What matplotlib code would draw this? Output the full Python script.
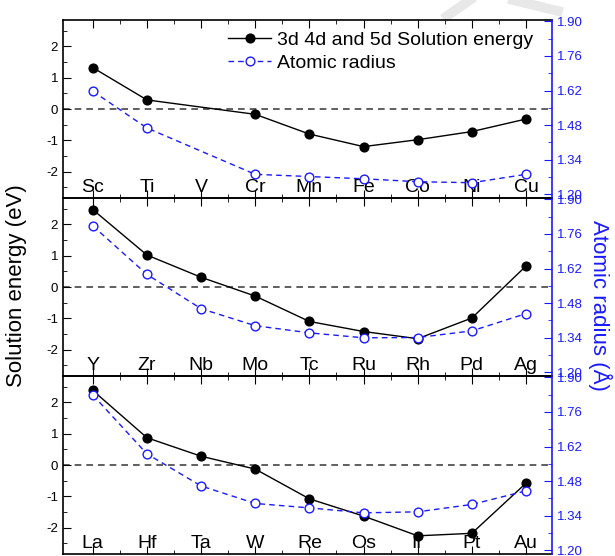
import matplotlib
matplotlib.use('Agg')
from matplotlib import pyplot as plt
import numpy as np

plt.rcParams['font.family'] = ['Liberation Sans', 'DejaVu Sans']
plt.rcParams['axes.unicode_minus'] = False

# element labels per row
el_3d = ['Sc', 'Ti', 'V', 'Cr', 'Mn', 'Fe', 'Co', 'Ni', 'Cu']
el_4d = ['Y', 'Zr', 'Nb', 'Mo', 'Tc', 'Ru', 'Rh', 'Pd', 'Ag']
el_5d = ['La', 'Hf', 'Ta', 'W', 'Re', 'Os', 'Ir', 'Pt', 'Au']

# solution energy (eV), V has no value
e_3d = [1.32, 0.29, np.nan, -0.17, -0.80, -1.20, -0.98, -0.72, -0.32]
e_4d = [2.47, 1.02, 0.31, -0.29, -1.10, -1.42, -1.65, -0.99, 0.67]
e_5d = [2.38, 0.87, 0.28, -0.13, -1.08, -1.63, -2.26, -2.18, -0.58]

# atomic radius (A)
r_3d = [1.617, 1.468, np.nan, 1.28, 1.271, 1.262, 1.25, 1.246, 1.28]
r_4d = [1.793, 1.596, 1.457, 1.388, 1.359, 1.339, 1.34, 1.367, 1.437]
r_5d = [1.829, 1.590, 1.46, 1.389, 1.371, 1.351, 1.355, 1.385, 1.44]

rows = [(el_3d, e_3d, r_3d), (el_4d, e_4d, r_4d), (el_5d, e_5d, r_5d)]

blue = '#1a1aff'
fig = plt.figure(figsize=(6.15, 5.56), dpi=100)

# faint watermark strokes at the top right
fig.add_artist(plt.Line2D([447 / 615, 470 / 615], [1 - 16 / 556, 1.0],
                          color='#e8e8e8', lw=7, zorder=0))
fig.add_artist(plt.Line2D([513 / 615, 558 / 615], [1.0, 1 - 11 / 556],
                          color='#e8e8e8', lw=7, zorder=0))

left, right = 63 / 615, 552 / 615
tops = [20, 198, 376]
h = 178

handles = None
for i, (els, en, rad) in enumerate(rows):
    top = tops[i]
    ax = fig.add_axes([left, 1 - (top + h) / 556, right - left, h / 556])
    ax.patch.set_alpha(0)
    ax2 = ax.twinx()
    x = np.arange(len(els))
    en = np.array(en)
    rad = np.array(rad)
    m1 = ~np.isnan(en)
    m2 = ~np.isnan(rad)

    ax.axhline(0, color='#444444', ls=(0, (4, 3)), lw=1.2, zorder=1)
    l1, = ax.plot(x[m1], en[m1], '-o', color='black', lw=1, ms=6.3, zorder=3,
                  label='3d 4d and 5d Solution energy')
    l2, = ax2.plot(x[m2], rad[m2], '--o', color=blue, lw=1, ms=6.3,
                   mfc='white', mec=blue, dashes=(4, 3),
                   label='Atomic radius')
    if handles is None:
        handles = [l1, l2]

    ax.set_xlim(-0.55, 8.48)
    ax.set_ylim(-2.84, 2.84)
    ax2.set_ylim(1.184, 1.906)

    ax.set_xticks(x)
    ax.set_xticks(x[:-1] + 0.5, minor=True)
    ax.set_xticklabels(els, fontsize=14)
    ax.set_yticks([-2, -1, 0, 1, 2])
    ax.set_yticks([-2.5, -1.5, -0.5, 0.5, 1.5, 2.5], minor=True)
    ax.tick_params(axis='x', which='both', direction='in', top=True,
                   pad=-14)
    ax.tick_params(axis='x', which='major', length=6)
    ax.tick_params(axis='x', which='minor', length=3)
    ax.tick_params(axis='y', which='both', direction='in', labelsize=9.5)
    ax.tick_params(axis='y', which='major', length=6)
    ax.tick_params(axis='y', which='minor', length=3)

    ax2.set_yticks([1.20, 1.34, 1.48, 1.62, 1.76, 1.90])
    ax2.set_yticks(np.arange(1.27, 1.90, 0.14), minor=True)
    ax2.set_yticklabels(['1.20', '1.34', '1.48', '1.62', '1.76', '1.90'])
    ax2.tick_params(axis='y', which='both', direction='in', colors=blue,
                    labelsize=9.5)
    ax2.tick_params(axis='y', which='major', length=6)
    ax2.tick_params(axis='y', which='minor', length=3)

    for s in ['top', 'bottom', 'left']:
        ax.spines[s].set_linewidth(1.2)
    ax.spines['right'].set_visible(False)
    ax2.spines['right'].set_color(blue)
    ax2.spines['right'].set_linewidth(1.2)
    for s in ['top', 'bottom', 'left']:
        ax2.spines[s].set_visible(False)

    if i == 0:
        ax2.legend(handles=handles, loc='upper right', frameon=False,
                   fontsize=14, handlelength=2.2, handletextpad=0.3,
                   borderaxespad=0.2, labelspacing=0.25,
                   bbox_to_anchor=(0.985, 1.0))

fig.text(0.027, 0.487, 'Solution energy (eV)', rotation=90, fontsize=16,
         ha='center', va='center')
fig.text(0.975, 0.45, 'Atomic radius (Å)', rotation=270, fontsize=16,
         ha='center', va='center', color=blue)

fig.savefig('out.png', dpi=100)
